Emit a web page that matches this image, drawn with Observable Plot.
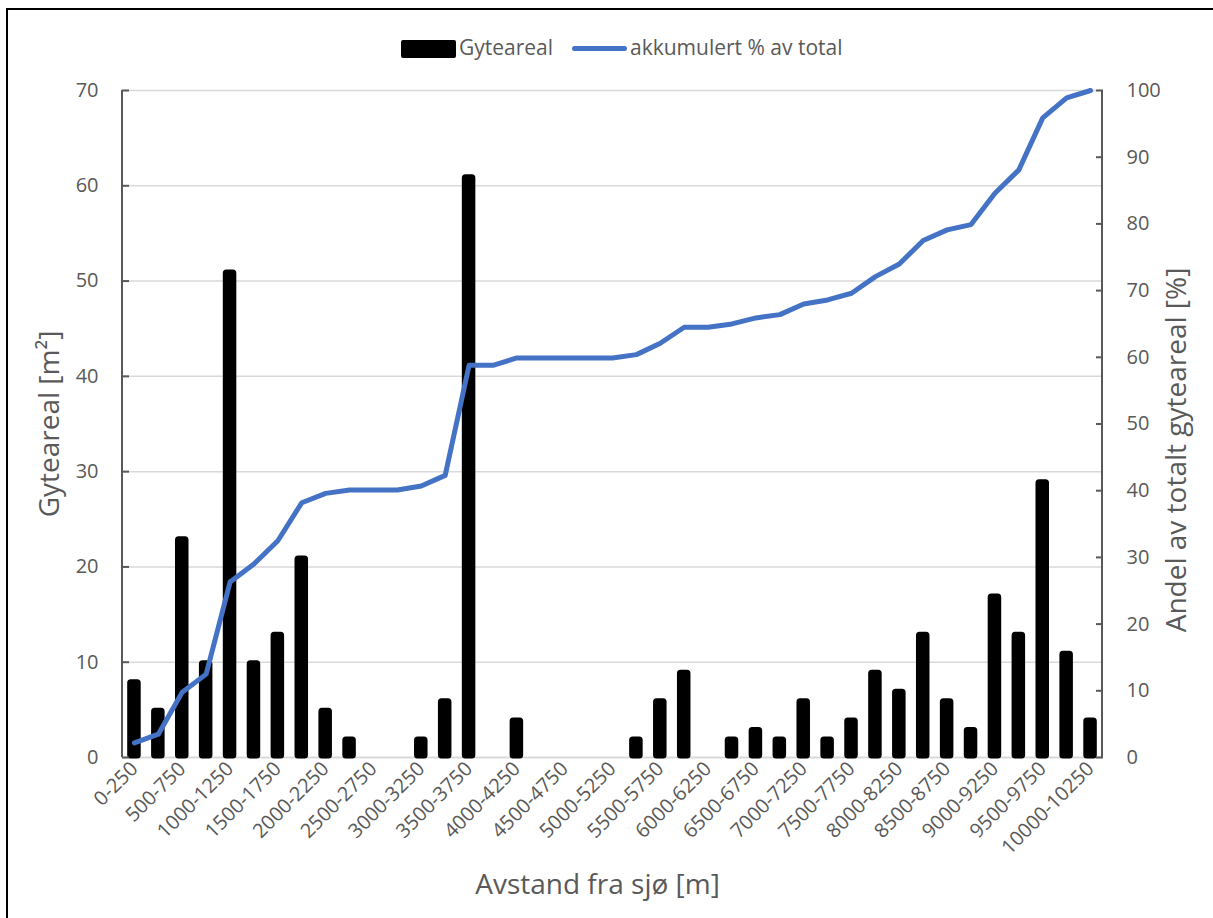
<!DOCTYPE html>
<html>
<head>
<meta charset="utf-8">
<script src="https://cdn.jsdelivr.net/npm/d3@7"></script>
<script src="https://cdn.jsdelivr.net/npm/@observablehq/plot@0.6"></script>
<style>
  body { margin: 0; background: #fff; font-family: "Open Sans", sans-serif; }
  #wrap { position: relative; width: 1213px; height: 918px; overflow: hidden; background: #fff; }
  #frame { position: absolute; left: 6px; top: 8px; width: 1400px; height: 1100px;
           border-left: 2px solid #000; border-top: 2px solid #000; pointer-events: none; z-index: 2; }
  #legend { position: relative; height: 70px; }
  .lg { position: absolute; font-size: 21px; color: #595959; line-height: 1; white-space: nowrap; }
  #chart svg { display: block; }
</style>
</head>
<body>
<div id="wrap">
  <div id="frame"></div>
  <div id="legend">
    <div style="position:absolute;left:401px;top:40px;width:55px;height:18px;background:#000;border-radius:2px;"></div>
    <div class="lg" style="left:459px;top:37px;">Gyteareal</div>
    <div style="position:absolute;left:572px;top:46px;width:55px;height:5px;background:#4472C4;border-radius:3px;"></div>
    <div class="lg" style="left:630px;top:37px;">akkumulert % av total</div>
  </div>
  <div id="chart"></div>
</div>
<script>
const categories = ["0-250","250-500","500-750","750-1000","1000-1250","1250-1500","1500-1750","1750-2000",
  "2000-2250","2250-2500","2500-2750","2750-3000","3000-3250","3250-3500","3500-3750","3750-4000",
  "4000-4250","4250-4500","4500-4750","4750-5000","5000-5250","5250-5500","5500-5750","5750-6000",
  "6000-6250","6250-6500","6500-6750","6750-7000","7000-7250","7250-7500","7500-7750","7750-8000",
  "8000-8250","8250-8500","8500-8750","8750-9000","9000-9250","9250-9500","9500-9750","9750-10000",
  "10000-10250"];
const xTickLabels = ["0-250","500-750","1000-1250","1500-1750","2000-2250","2500-2750","3000-3250",
  "3500-3750","4000-4250","4500-4750","5000-5250","5500-5750","6000-6250","6500-6750","7000-7250",
  "7500-7750","8000-8250","8500-8750","9000-9250","9500-9750","10000-10250"];
const gyteareal = [8,5,23,10,51,10,13,21,5,2,0,0,2,6,61,0,4,0,0,0,0,2,6,9,0,2,3,2,6,2,4,9,7,13,6,3,17,13,29,11,4];
const akkumulert = [2.2,3.5,9.8,12.5,26.3,29.0,32.5,38.2,39.6,40.1,40.1,40.1,40.7,42.3,58.8,58.8,59.9,59.9,59.9,59.9,59.9,
  60.4,62.1,64.5,64.5,65.0,65.9,66.4,68.0,68.6,69.6,72.1,74.0,77.5,79.1,79.9,84.6,88.1,95.9,98.9,100];
const leftTicks = [0,10,20,30,40,50,60,70];
const rightTicks = [0,10,20,30,40,50,60,70,80,90,100];
const leftMax = 70, rightMax = 100;
const k = leftMax / rightMax;

const data = categories.map((c, i) => ({c, v: gyteareal[i], p: akkumulert[i]}));
const grey = "#595959";

const axisLines = (index, scales, values, dims) => {
  const g = d3.create("svg:g");
  const y0 = dims.marginTop, y1 = dims.height - dims.marginBottom;
  g.append("line").attr("x1", dims.marginLeft).attr("x2", dims.marginLeft).attr("y1", y0).attr("y2", y1)
    .attr("stroke", grey).attr("stroke-width", 2);
  g.append("line").attr("x1", dims.width - dims.marginRight).attr("x2", dims.width - dims.marginRight)
    .attr("y1", y0).attr("y2", y1).attr("stroke", grey).attr("stroke-width", 2);
  return g.node();
};

const chart = Plot.plot({
  width: 1213,
  height: 848,
  marginTop: 20,
  marginBottom: 161,
  marginLeft: 122,
  marginRight: 111,
  style: {fontFamily: "'Open Sans', sans-serif", fontSize: "20px", color: grey, background: "transparent", overflow: "visible"},
  x: {domain: categories, paddingInner: 0.56, paddingOuter: 0.28, label: null},
  y: {domain: [0, leftMax], label: null},
  marks: [
    Plot.gridY(leftTicks.slice(1), {stroke: "#d9d9d9", strokeOpacity: 1, strokeWidth: 1.5}),
    Plot.ruleY([0], {stroke: "#d9d9d9", strokeWidth: 2}),
    Plot.barY(data.filter(d => d.v > 0), {x: "c", y: "v", fill: "#000", stroke: "#000", strokeWidth: 3, strokeLinejoin: "round", rx: 2}),
    Plot.lineY(data, {x: "c", y: d => d.p * k, stroke: "#4472C4", strokeWidth: 5, strokeLinejoin: "round", strokeLinecap: "round"}),
    axisLines,
    Plot.axisY(leftTicks, {anchor: "left", tickSize: 7, dx: 7, stroke: grey, strokeWidth: 2, tickFormat: () => "", label: null}),
    Plot.axisY(leftTicks, {anchor: "left", tickSize: 0, tickPadding: 24, fill: grey, fontSize: 20, label: null}),
    Plot.axisY(rightTicks.map(p => p * k), {anchor: "right", tickSize: 7, dx: -7, stroke: grey, strokeWidth: 2, tickFormat: () => "", label: null}),
    Plot.axisY(rightTicks.map(p => p * k), {anchor: "right", tickSize: 0, tickPadding: 24, fill: grey, fontSize: 20, label: null,
      tickFormat: d => String(Math.round(d / k))}),
    Plot.axisX(xTickLabels, {tickSize: 0, tickPadding: 8, tickRotate: -45, fill: grey, fontSize: 20, label: null}),
    Plot.text(["Gyteareal [m²]"], {frameAnchor: "left", dx: -72, rotate: -90, textAnchor: "middle", fontSize: 28, fill: grey}),
    Plot.text(["Andel av totalt gyteareal [%]"], {frameAnchor: "right", dx: 75, dy: 26, rotate: -90, textAnchor: "middle", fontSize: 28, fill: grey}),
    Plot.text(["Avstand fra sjø [m]"], {frameAnchor: "bottom", dx: -15, dy: 136, fontSize: 28, fill: grey})
  ]
});
document.getElementById("chart").appendChild(chart);
</script>
</body>
</html>
